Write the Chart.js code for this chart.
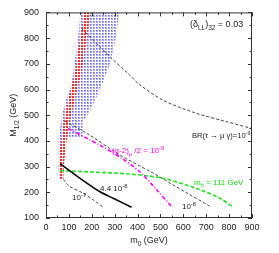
<!DOCTYPE html>
<html lang="en">
<head>
<meta charset="UTF-8" />
<title>(delta_LL)32 = 0.03</title>
<script src="https://cdn.jsdelivr.net/npm/chart.js"></script>
<style>
  html, body { margin: 0; padding: 0; background: #fff; }
</style>
</head>
<body>
<canvas id="myChart" width="279" height="253"></canvas>
<script>
// tick labels
const xTicks = [0, 100, 200, 300, 400, 500, 600, 700, 800, 900];
const yTicks = [100, 200, 300, 400, 500, 600, 700, 800, 900];

// blue dotted region (outline, m0 / M1/2)
const blueM0 = [55, 55, 62, 70, 88, 105, 118, 138, 150, 320, 305, 280, 240, 210, 180, 160, 160, 88, 88];
const blueM  = [337, 411, 450, 500, 560, 600, 660, 780, 900, 900, 800, 700, 610, 550, 500, 475, 411, 411, 337];

// red dotted band
const redM0 = [58, 55, 62, 78, 102, 126, 148, 168, 195, 176, 154, 130, 104, 85, 78, 76];
const redM  = [250, 300, 370, 475, 580, 660, 790, 900, 900, 790, 660, 580, 475, 370, 300, 250];

// BR(tau -> mu gamma) = 1e-9
const br9M0 = [156, 250, 367, 403, 512, 658, 780, 900];
const br9M  = [837, 752, 655, 623, 558, 507, 477, 448];
// BR = 1e-8
const br8M0 = [83, 192, 323, 467, 616, 708, 722];
const br8M  = [477, 422, 345, 275, 197, 150, 142];
// BR = 1e-7
const br7M0 = [76, 100, 163, 210, 250];
const br7M  = [250, 225, 196, 168, 142];
// BR = 4.4e-8 (solid)
const br44M0 = [61, 100, 149, 236, 300, 374];
const br44M  = [312, 286, 254, 202, 174, 142];
// (g-2)_mu / 2 = 1e-9
const g2M0 = [97, 236, 323, 411, 476, 550];
const g2M  = [448, 383, 337, 279, 217, 143];
// m_h = 111 GeV
const mhM0 = [61, 200, 367, 513, 658, 760, 818];
const mhM  = [284, 279, 271, 254, 215, 177, 142];

function pts(xs, ys) { return xs.map((x, i) => ({ x: x, y: ys[i] })); }

var canvas = document.getElementById('myChart');
var ctx = canvas.getContext('2d');

function dotPattern(fg, halo, size) {
  var c = document.createElement('canvas');
  c.width = 3; c.height = 3;
  var g = c.getContext('2d');
  if (halo) { g.fillStyle = halo; g.fillRect(0, 0, 2, 2); }
  g.fillStyle = fg;
  g.fillRect(0, 0, size, size);
  return ctx.createPattern(c, 'repeat');
}

const FONT = '"Liberation Sans", Arial, sans-serif';

function drawRich(c, x, y, parts, color, size) {
  c.save();
  c.fillStyle = color;
  c.textAlign = 'left';
  c.textBaseline = 'alphabetic';
  var cx = x;
  parts.forEach(function (p) {
    var fs = size, dy = 0;
    if (p.sub) { fs = size * 0.72; dy = size * 0.3; }
    if (p.sup) { fs = size * 0.72; dy = -size * 0.42; }
    c.font = fs + 'px ' + FONT;
    c.fillText(p.t, cx, y + dy);
    cx += c.measureText(p.t).width;
  });
  c.restore();
  return cx - x;
}

function richWidth(c, parts, size) {
  var w = 0;
  c.save();
  parts.forEach(function (p) {
    var fs = (p.sub || p.sup) ? size * 0.72 : size;
    c.font = fs + 'px ' + FONT;
    w += c.measureText(p.t).width;
  });
  c.restore();
  return w;
}

// frame, inward ticks, labels
const decor = {
  id: 'decor',
  afterDraw(chart) {
    var c = chart.ctx, a = chart.chartArea;
    var xs = chart.scales.x, ys = chart.scales.y;
    c.save();
    c.strokeStyle = '#333';
    c.lineWidth = 1;
    c.strokeRect(a.left + 0.5, a.top + 0.5, a.right - a.left - 1, a.bottom - a.top - 1);
    c.beginPath();
    for (var v = 0; v <= 900; v += 50) {
      var px = Math.round(xs.getPixelForValue(v)) + 0.5;
      var len = v % 100 === 0 ? 4 : 2.5;
      c.moveTo(px, a.bottom); c.lineTo(px, a.bottom - len);
      c.moveTo(px, a.top); c.lineTo(px, a.top + len);
    }
    for (var w = 100; w <= 900; w += 50) {
      var py = Math.round(ys.getPixelForValue(w)) + 0.5;
      var l2 = w % 100 === 0 ? 4 : 2.5;
      c.moveTo(a.left, py); c.lineTo(a.left + l2, py);
      c.moveTo(a.right, py); c.lineTo(a.right - l2, py);
    }
    c.stroke();
    c.restore();

    function at(m0, M) { return [xs.getPixelForValue(m0), ys.getPixelForValue(M)]; }
    var p;
    p = at(629, 853);
    drawRich(c, p[0], p[1] + 3, [{t: '(δ'}, {t: 'LL', sub: true}, {t: ')'}, {t: '32', sub: true}, {t: ' = 0.03'}], '#222', 9);
    p = at(638, 422);
    drawRich(c, p[0], p[1] + 3, [{t: 'BR(τ → μ γ)=10'}, {t: '-9', sup: true}], '#222', 7.6);
    p = at(288, 364);
    drawRich(c, p[0], p[1] + 3, [{t: '(g-2)'}, {t: 'μ', sub: true}, {t: ' /2 = 10'}, {t: '-9', sup: true}], '#ff00ff', 8);
    p = at(647, 240);
    drawRich(c, p[0], p[1] + 3, [{t: 'm'}, {t: 'h', sub: true}, {t: ' = 111 GeV'}], '#11dd11', 8);
    p = at(594, 147);
    drawRich(c, p[0], p[1] + 3, [{t: '10'}, {t: '-8', sup: true}], '#222', 8);
    p = at(236, 217);
    drawRich(c, p[0], p[1] + 3, [{t: '4.4 10'}, {t: '-8', sup: true}], '#222', 8);
    p = at(114, 182);
    drawRich(c, p[0], p[1] + 3, [{t: '10'}, {t: '-7', sup: true}], '#222', 8);

    // axis titles
    var xt = [{t: 'm'}, {t: '0', sub: true}, {t: ' (GeV)'}];
    var xw = richWidth(c, xt, 9);
    drawRich(c, (a.left + a.right) / 2 - xw / 2, 243, xt, '#222', 9);
    var yt = [{t: 'M'}, {t: '1/2', sub: true}, {t: ' (GeV)'}];
    var yw = richWidth(c, yt, 9);
    c.save();
    c.translate(16, (a.top + a.bottom) / 2);
    c.rotate(-Math.PI / 2);
    drawRich(c, -yw / 2, 0, yt, '#222', 9);
    c.restore();
  }
};

function curve(xs, ys, color, width, dash, order) {
  return {
    data: pts(xs, ys),
    borderColor: color,
    borderWidth: width,
    borderDash: dash,
    pointRadius: 0,
    fill: false,
    tension: 0.3,
    order: order
  };
}

var myChart = new Chart(ctx, {
  type: 'line',
  data: {
    datasets: [
      {
        data: pts(blueM0, blueM),
        borderWidth: 0,
        borderColor: 'rgba(0,0,0,0)',
        backgroundColor: dotPattern('#6262ff', '#a8a8ff', 1),
        pointRadius: 0,
        fill: 'shape',
        order: 20
      },
      {
        data: pts(redM0, redM),
        borderWidth: 0,
        borderColor: 'rgba(0,0,0,0)',
        backgroundColor: dotPattern('#ff2a2a', null, 2),
        pointRadius: 0,
        fill: 'shape',
        order: 19
      },
      curve(br9M0, br9M, '#444', 1, [3, 2], 5),
      curve(br8M0, br8M, '#444', 1, [3, 2], 4),
      curve(br7M0, br7M, '#444', 1, [3, 2], 4),
      curve(mhM0, mhM, '#22e022', 1.6, [4, 2], 3),
      curve(g2M0, g2M, '#ff00ff', 1.6, [4, 2, 1, 2], 2),
      curve(br44M0, br44M, '#000', 1.6, [], 1)
    ]
  },
  options: {
    responsive: false,
    animation: false,
    devicePixelRatio: 1,
    layout: { padding: { top: 12, right: 27, left: 0, bottom: 0 } },
    plugins: { legend: { display: false }, tooltip: { enabled: false } },
    scales: {
      x: {
        type: 'linear',
        min: 0, max: 900,
        afterBuildTicks: function (s) { s.ticks = xTicks.map(v => ({ value: v })); },
        afterFit: function (s) { s.height = 35; },
        ticks: { font: { size: 9, family: FONT }, color: '#222', maxRotation: 0, padding: 4, autoSkip: false },
        grid: { display: false, drawTicks: false },
        border: { display: false }
      },
      y: {
        type: 'linear',
        min: 100, max: 900,
        afterBuildTicks: function (s) { s.ticks = yTicks.map(v => ({ value: v })); },
        afterFit: function (s) { s.width = 46; },
        ticks: { font: { size: 9, family: FONT }, color: '#222', padding: 7, autoSkip: false },
        grid: { display: false, drawTicks: false },
        border: { display: false }
      }
    }
  },
  plugins: [decor]
});
</script>
</body>
</html>
